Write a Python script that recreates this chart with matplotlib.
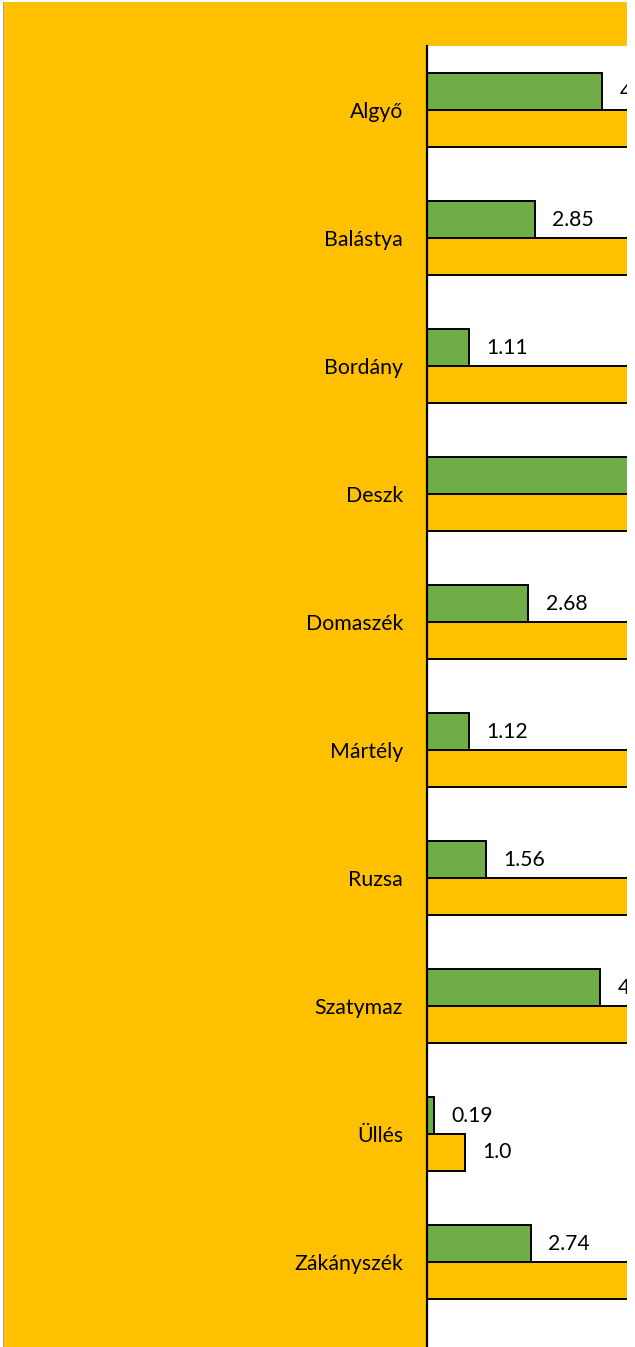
import matplotlib
matplotlib.use("Agg")
import matplotlib.pyplot as plt
from matplotlib.patches import Rectangle
import numpy as np

categories = ["Algyő", "Balástya", "Bordány", "Deszk", "Domaszék",
              "Mártély", "Ruzsa", "Szatymaz", "Üllés", "Zákányszék"]
green_values = [4.62, 2.85, 1.11, 5.9, 2.68, 1.12, 1.56, 4.57, 0.19, 2.74]
orange_values = [7.2, 6.1, 5.8, 8.4, 6.9, 5.9, 6.3, 7.5, 1.0, 6.6]
green_labels = ["4.62", "2.85", "1.11", "5.9", "2.68", "1.12", "1.56", "4.57", "0.19", "2.74"]
orange_labels = ["7.2", "6.1", "5.8", "8.4", "6.9", "5.9", "6.3", "7.5", "1.0", "6.6"]

W, H = 635, 1347
DPI = 100
ORANGE = "#FFC000"
GREEN = "#70AD47"
FAM = ["Lato", "DejaVu Sans"]

fig = plt.figure(figsize=(W / DPI, H / DPI), dpi=DPI, facecolor="white")

# chart area background
fig.patches.append(Rectangle((4 / W, 0), (627 - 4) / W, 1 - 2 / H,
                             transform=fig.transFigure, facecolor=ORANGE,
                             edgecolor="none", zorder=-10))
fig.patches.append(Rectangle((3 / W, 0), 1.2 / W, 1 - 2 / H,
                             transform=fig.transFigure, facecolor="#A0A0A0",
                             edgecolor="none", zorder=-9))

# axes geometry (extends beyond the visible chart)
px_per_unit_y = 128.0
top_px = 46.0
ymin_data, ymax_data = -0.5, 10.5
bottom_px = top_px + (ymax_data - ymin_data) * px_per_unit_y
left_px = 426.5
px_per_unit_x = 38.0
width_px = 400.0
ax = fig.add_axes([left_px / W, 1 - bottom_px / H, width_px / W, (bottom_px - top_px) / H])
ax.set_facecolor("white")
ax.set_xlim(0, width_px / px_per_unit_x)
ax.set_ylim(ymax_data, ymin_data)

y = np.arange(len(categories))
h = 0.289
ax.barh(y - h / 2, green_values, height=h, color=GREEN, edgecolor="black", linewidth=1.4, zorder=2)
ax.barh(y + h / 2, orange_values, height=h, color=ORANGE, edgecolor="black", linewidth=1.4, zorder=2)

for yi, v, s in zip(y, green_values, green_labels):
    ax.annotate(s, (v, yi - h / 2), xytext=(12.7, 0), textcoords="offset points",
                ha="left", va="center", fontsize=15.2, family=FAM, color="black")
for yi, v, s in zip(y, orange_values, orange_labels):
    ax.annotate(s, (v, yi + h / 2), xytext=(12.7, 0), textcoords="offset points",
                ha="left", va="center", fontsize=15.2, family=FAM, color="black")

ax.set_yticks(y)
ax.set_yticklabels(categories, family=FAM, fontsize=15.3)
ax.tick_params(axis="y", length=0, pad=17)
ax.set_xticks([])
for side in ["top", "right", "bottom"]:
    ax.spines[side].set_visible(False)
ax.spines["left"].set_linewidth(1.6)
ax.spines["left"].set_color("black")

# white strip at the right edge (outside the chart)
fig.patches.append(Rectangle((627 / W, 0), 8 / W, 1, transform=fig.transFigure,
                             facecolor="white", edgecolor="none", zorder=20))
# thin white strip at top
fig.patches.append(Rectangle((0, 1 - 2 / H), 1, 2 / H, transform=fig.transFigure,
                             facecolor="white", edgecolor="none", zorder=20))

fig.savefig("out.png", dpi=DPI, facecolor="white")
